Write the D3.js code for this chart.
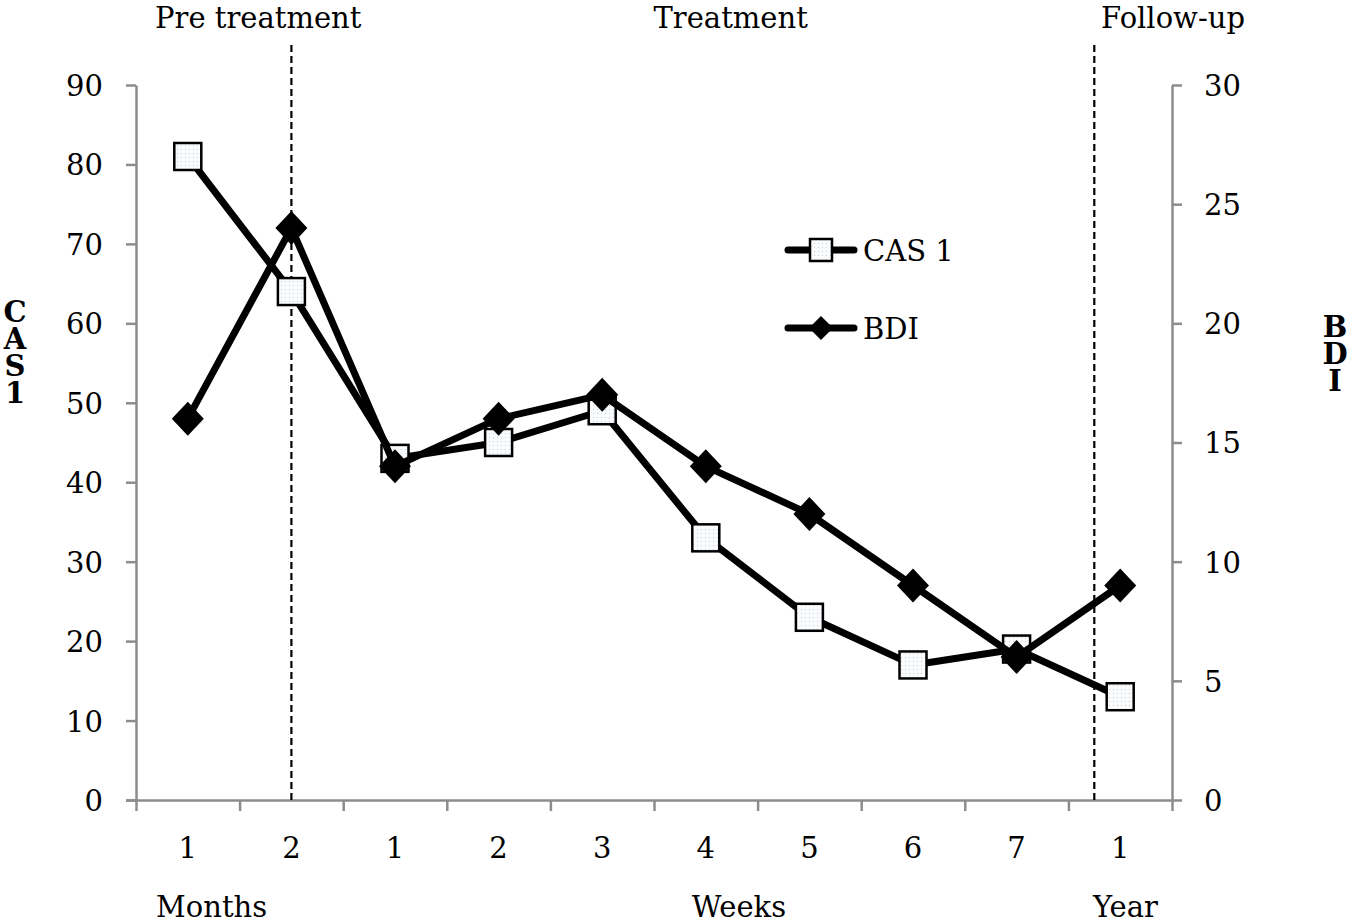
<!DOCTYPE html>
<html>
<head>
<meta charset="utf-8">
<script src="https://cdn.jsdelivr.net/npm/d3@7"></script>
<style>
  body { margin: 0; background: #fff; }
  text { font-family: "DejaVu Serif", serif; fill: #000; }
</style>
</head>
<body>
<div id="chart"></div>
<script>
// Categories along the x axis (months, weeks, year)
const categories = ['1', '2', '1', '2', '3', '4', '5', '6', '7', '1'];
const cas1 = [81, 64, 43, 45, 49, 33, 23, 17, 19, 13];
const bdi = [16, 24, 14, 16, 17, 14, 12, 9, 6, 9];
const leftTicks = [0, 10, 20, 30, 40, 50, 60, 70, 80, 90];
const rightTicks = [0, 5, 10, 15, 20, 25, 30];
const phaseLabels = ['Pre treatment', 'Treatment', 'Follow-up'];
const unitLabels = ['Months', 'Weeks', 'Year'];
const dividers = [1, 8.75];   // phase boundaries, in category units

function drawChart() {
    const W = 1350, H = 924;
    const left = 136, right = 1172, top = 85, bottom = 800;

    const svg = d3.select('#chart')
        .append('svg')
        .attr('width', W)
        .attr('height', H);

    // dotted fill for the square markers
    const pat = svg.append('defs').append('pattern')
        .attr('id', 'dots')
        .attr('width', 4)
        .attr('height', 4)
        .attr('patternUnits', 'userSpaceOnUse');
    pat.append('rect').attr('width', 4).attr('height', 4).attr('fill', '#fafbfc');
    pat.append('rect').attr('x', 1).attr('y', 1).attr('width', 1).attr('height', 1).attr('fill', '#c9ced6');

    // Scales
    const x = d3.scaleLinear()
        .domain([-0.5, categories.length - 0.5])
        .range([left, right]);
    const yL = d3.scaleLinear().domain([0, 90]).range([bottom, top]);
    const yR = d3.scaleLinear().domain([0, 30]).range([bottom, top]);

    // X axis: ticks between categories
    const xAxis = svg.append('g')
        .attr('transform', `translate(0,${bottom})`)
        .call(d3.axisBottom(x)
            .tickValues(d3.range(-0.5, categories.length, 1))
            .tickFormat('')
            .tickSizeInner(11)
            .tickSizeOuter(0));
    xAxis.select('.domain').attr('d', `M${left - 10},0.5H${right}`);

    // Left axis
    const yAxisL = svg.append('g')
        .attr('transform', `translate(${left},0)`)
        .call(d3.axisLeft(yL).tickValues(leftTicks).tickSizeInner(10).tickSizeOuter(0).tickPadding(23));

    // Right axis
    const yAxisR = svg.append('g')
        .attr('transform', `translate(${right},0)`)
        .call(d3.axisRight(yR).tickValues(rightTicks).tickSizeInner(10).tickSizeOuter(0).tickPadding(22));

    [xAxis, yAxisL, yAxisR].forEach(g => {
        g.selectAll('.domain').attr('stroke', '#8c8c8c').attr('stroke-width', 2.5);
        g.selectAll('.tick line').attr('stroke', '#8c8c8c').attr('stroke-width', 2.5);
        g.selectAll('.tick text')
            .style('font-family', '"DejaVu Serif", serif')
            .style('font-size', '29px')
            .attr('fill', '#000');
    });
    yAxisL.selectAll('.tick text').attr('dy', '0.36em');
    yAxisR.selectAll('.tick text').attr('dy', '0.36em');

    // Category labels
    svg.selectAll('.cat-label')
        .data(categories)
        .enter()
        .append('text')
        .attr('class', 'cat-label')
        .attr('x', (d, i) => x(i))
        .attr('y', 858)
        .attr('text-anchor', 'middle')
        .style('font-size', '29px')
        .text(d => d);

    // Unit labels under the axis
    const unitPos = [0.23, 5.32, 9.05];
    svg.selectAll('.unit-label')
        .data(unitLabels)
        .enter()
        .append('text')
        .attr('class', 'unit-label')
        .attr('x', (d, i) => x(unitPos[i]))
        .attr('y', 917)
        .attr('text-anchor', 'middle')
        .style('font-size', '29px')
        .text(d => d);

    // Phase labels at the top
    const phasePos = [0.68, 5.24, 9.51];
    svg.selectAll('.phase-label')
        .data(phaseLabels)
        .enter()
        .append('text')
        .attr('class', 'phase-label')
        .attr('x', (d, i) => x(phasePos[i]))
        .attr('y', 28)
        .attr('text-anchor', 'middle')
        .style('font-size', '29px')
        .text(d => d);

    // Vertical axis titles, stacked letters in one text element
    const stacked = (letters, cx, y0, step) => {
        const t = svg.append('text')
            .attr('x', cx)
            .attr('y', y0)
            .attr('text-anchor', 'middle')
            .style('font-size', '29px')
            .style('font-weight', 'bold');
        t.selectAll('tspan')
            .data(letters)
            .enter()
            .append('tspan')
            .attr('x', cx)
            .attr('dy', (d, i) => i === 0 ? 0 : step)
            .text(d => d);
    };
    stacked(['C', 'A', 'S', '1'], 15, 322, 27);
    stacked(['B', 'D', 'I'], 1335, 337, 27);

    // Dashed phase dividers
    svg.selectAll('.divider')
        .data(dividers)
        .enter()
        .append('line')
        .attr('class', 'divider')
        .attr('x1', d => x(d))
        .attr('x2', d => x(d))
        .attr('y1', 45)
        .attr('y2', bottom)
        .attr('stroke', '#000')
        .attr('stroke-width', 2.2)
        .attr('stroke-dasharray', '7,4');

    const line = yScale => d3.line()
        .x((d, i) => x(i))
        .y(d => yScale(d));

    const sq = 27;
    const diamond = 'M0,-17L16,0L0,17L-16,0Z';

    // CAS 1 series
    svg.append('path')
        .datum(cas1)
        .attr('d', line(yL))
        .attr('fill', 'none')
        .attr('stroke', '#000')
        .attr('stroke-width', 7)
        .attr('stroke-linejoin', 'round');

    svg.selectAll('.cas-pt')
        .data(cas1)
        .enter()
        .append('rect')
        .attr('class', 'cas-pt')
        .attr('x', (d, i) => x(i) - sq / 2)
        .attr('y', d => yL(d) - sq / 2)
        .attr('width', sq)
        .attr('height', sq)
        .attr('fill', 'url(#dots)')
        .attr('stroke', '#000')
        .attr('stroke-width', 2.5);

    // BDI series
    svg.append('path')
        .datum(bdi)
        .attr('d', line(yR))
        .attr('fill', 'none')
        .attr('stroke', '#000')
        .attr('stroke-width', 7)
        .attr('stroke-linejoin', 'round');

    svg.selectAll('.bdi-pt')
        .data(bdi)
        .enter()
        .append('path')
        .attr('class', 'bdi-pt')
        .attr('transform', (d, i) => `translate(${x(i)},${yR(d)})`)
        .attr('d', diamond)
        .attr('fill', '#000');

    // Legend
    const legend = svg.append('g').attr('transform', 'translate(785,250)');
    const legendItems = [
        { name: 'CAS 1', marker: 'square' },
        { name: 'BDI', marker: 'diamond' }
    ];
    legendItems.forEach((item, i) => {
        const g = legend.append('g').attr('transform', `translate(0,${i * 78})`);
        g.append('line')
            .attr('x1', 3).attr('x2', 69)
            .attr('y1', 0).attr('y2', 0)
            .attr('stroke', '#000')
            .attr('stroke-width', 7)
            .attr('stroke-linecap', 'round');
        if (item.marker === 'square') {
            g.append('rect')
                .attr('x', 36 - 11).attr('y', -11)
                .attr('width', 22).attr('height', 22)
                .attr('fill', 'url(#dots)')
                .attr('stroke', '#000')
                .attr('stroke-width', 2.5);
        } else {
            g.append('path')
                .attr('transform', 'translate(36,0)')
                .attr('d', 'M0,-12L12,0L0,12L-12,0Z')
                .attr('fill', '#000');
        }
        g.append('text')
            .attr('x', 78)
            .attr('y', 11)
            .style('font-size', '29px')
            .text(item.name);
    });
}

drawChart();
</script>
</body>
</html>
